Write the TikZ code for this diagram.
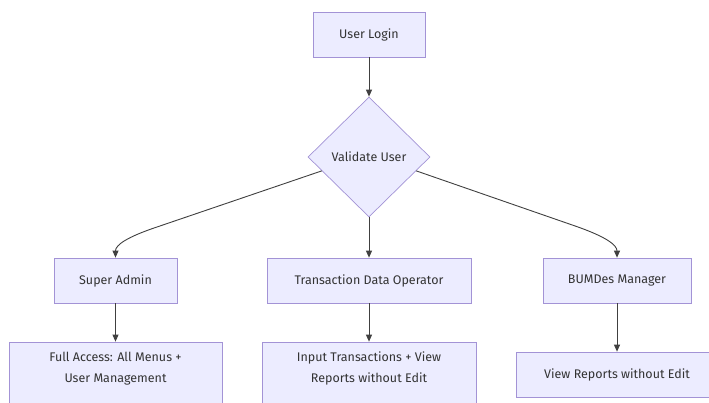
\documentclass[tikz,border=0pt]{standalone}
\usepackage{fontspec}
\setmainfont{Fira Sans}
\usetikzlibrary{shapes.geometric,arrows.meta,calc}
\definecolor{nodefill}{HTML}{ECECFF}
\definecolor{nodeline}{HTML}{A393D6}
\definecolor{edgeline}{HTML}{404040}
\definecolor{txt}{HTML}{333333}
\begin{document}
\begin{tikzpicture}[x=1pt,y=-1pt,
  box/.style={draw=nodeline,fill=nodefill,line width=0.7pt,rectangle,inner sep=0pt,
    minimum height=45pt,text=txt,font=\fontsize{12.5}{21}\selectfont,align=center},
  twoline/.style={box,minimum height=65pt,text depth=15pt},
  decision/.style={draw=nodeline,fill=nodefill,line width=0.7pt,diamond,aspect=1,inner sep=0pt,
    minimum width=122pt,minimum height=120pt,text=txt,font=\fontsize{12.5}{15}\selectfont},
  edge/.style={draw=edgeline,line width=0.9pt,-{Triangle[length=7pt,width=6pt]}}]
\useasboundingbox (0,0) rectangle (709,403);
\clip (0,0) rectangle (709,403);
\fill[white] (0,0) rectangle (709,403);

\node[box,minimum width=112pt] (login) at (369,34.5) {User Login};
\node[decision] (val) at (369,157) {Validate User};
\node[box,minimum width=123pt] (sa) at (115.5,280.5) {Super Admin};
\node[box,minimum width=204pt] (tdo) at (369,280.5) {Transaction Data Operator};
\node[box,minimum width=148pt] (bm) at (617,280.5) {BUMDes Manager};
\node[twoline,minimum width=213pt] (fa) at (115.5,374.5) {Full Access: All Menus +\\User Management};
\node[twoline,minimum width=214pt] (it) at (369,374.5) {Input Transactions + View\\Reports without Edit};
\node[box,minimum width=202pt] (vr) at (617,374.5) {View Reports without Edit};

\coordinate (l1) at ($(val.west)!0.23!(val.south)$);
\coordinate (r1) at ($(val.east)!0.23!(val.south)$);

\draw[edge] (login) -- (val);
\draw[edge] (l1) -- (157,227) .. controls (127,237) and (115.5,245) .. (sa.north);
\draw[edge] (val.south) -- (tdo.north);
\draw[edge] (r1) -- (578,227) .. controls (606,237) and (617,245) .. (bm.north);
\draw[edge] (sa) -- (fa);
\draw[edge] (tdo) -- (it);
\draw[edge] (bm) -- (vr);
\end{tikzpicture}
\end{document}
